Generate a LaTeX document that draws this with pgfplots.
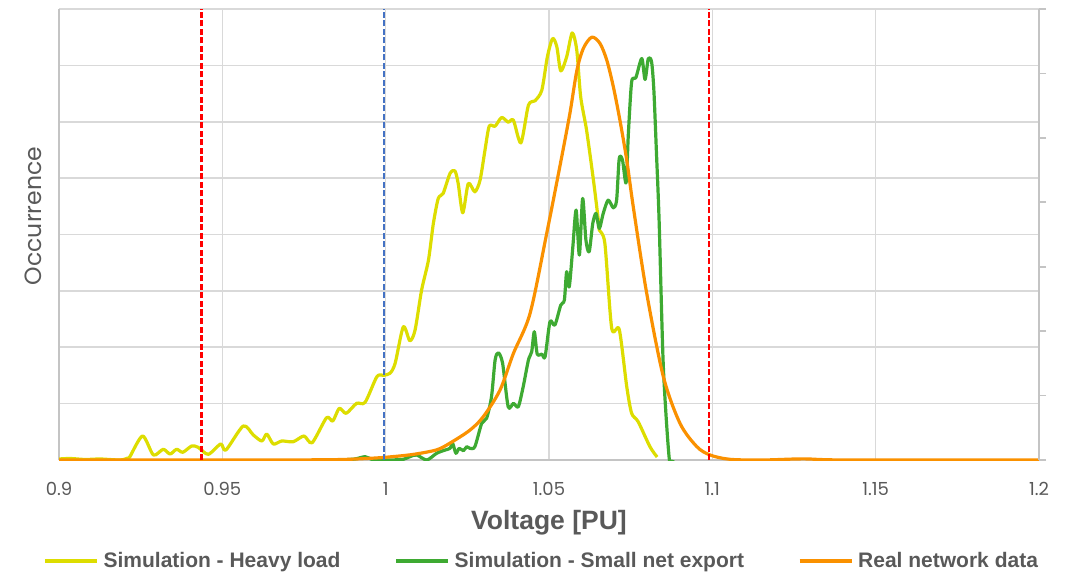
\documentclass[border=0pt]{standalone}
\usepackage{pgfplots}
\pgfplotsset{compat=1.18}
\usepackage{fontspec}
\setmainfont{Liberation Sans}
\newfontfamily\pop{Poppins}
\definecolor{cyel}{RGB}{221,221,0}
\definecolor{cgrn}{RGB}{62,170,50}
\definecolor{corg}{RGB}{250,145,0}
\definecolor{cred}{RGB}{255,0,0}
\definecolor{cblu}{RGB}{68,114,196}
\definecolor{gridgray}{RGB}{217,217,217}
\definecolor{axgray}{RGB}{196,196,196}
\definecolor{txtgray}{RGB}{89,89,89}
\begin{document}
\begin{tikzpicture}
\path (-59pt,-113pt) rectangle (1015pt,460pt);
\begin{axis}[
  scale only axis, width=980pt, height=451pt,
  xmin=0.9, xmax=1.2, ymin=0, ymax=8,
  xtick={0.9,0.95,1,1.05,1.1,1.15,1.2},
  xticklabels={0.9,0.95,1,1.05,1.1,1.15,1.2},
  ytick={0,1,2,3,4,5,6,7,8}, yticklabels={},
  grid=major, grid style={draw=gridgray, line width=1.6pt},
  axis x line*=bottom, axis y line*=left,
  axis line style={draw=axgray, line width=1.8pt, -},
  major tick length=0pt,
  /pgf/number format/assume math mode=true,
  xticklabel style={font=\pop\fontsize{18}{20}\selectfont, text=txtgray, anchor=center, yshift=-29pt},
  xlabel={Voltage [PU]},
  xlabel style={font=\bfseries\fontsize{26.5}{28}\selectfont, text=txtgray, at={(axis description cs:0.5,-0.1397)}, anchor=center},
  ylabel={Occurrence},
  ylabel style={font=\pop\fontsize{23.5}{25}\selectfont, text=txtgray, at={(axis description cs:-0.0265,0.541)}, anchor=center},
  legend columns=3,
  legend style={at={(axis description cs:0.492,-0.224)}, anchor=center, draw=none, fill=none,
     font=\bfseries\fontsize{21}{23}\selectfont, text=txtgray,
     nodes={inner sep=1pt},
     /tikz/every even column/.append style={column sep=53pt},
     /tikz/every odd column/.append style={column sep=4pt}},
  legend image code/.code={\draw[#1, line width=3.2pt] (0pt,0pt) -- (52pt,0pt);},
  legend cell align=left,
]
% Heavy load
\addplot[cyel, line width=3.2pt, smooth, tension=0.45, line join=round] coordinates {
(0.9000,0.018) (0.9034,0.027) (0.9080,0.009) (0.9126,0.018) (0.9187,0.000) (0.9211,0.035)
(0.9217,0.059) (0.9256,0.426) (0.9289,0.089) (0.9319,0.190) (0.9340,0.106) (0.9360,0.190)
(0.9379,0.137) (0.9406,0.248) (0.9426,0.225) (0.9457,0.101) (0.9495,0.284) (0.9511,0.177)
(0.9564,0.603) (0.9595,0.443) (0.9621,0.337) (0.9636,0.461) (0.9656,0.284) (0.9682,0.337)
(0.9717,0.324) (0.9750,0.426) (0.9775,0.307) (0.9819,0.750) (0.9838,0.691) (0.9858,0.917)
(0.9879,0.828) (0.9911,1.005) (0.9937,1.023) (0.9973,1.477) (0.9993,1.502) (1.0013,1.537)
(1.0029,1.715) (1.0054,2.363) (1.0074,2.115) (1.0090,2.305) (1.0110,3.014) (1.0131,3.546)
(1.0146,4.197) (1.0161,4.640) (1.0176,4.729) (1.0197,5.083) (1.0212,5.129) (1.0222,4.906)
(1.0236,4.385) (1.0253,4.906) (1.0273,4.757) (1.0289,4.965) (1.0304,5.496) (1.0317,5.922)
(1.0335,5.922) (1.0355,6.076) (1.0375,5.993) (1.0391,6.028) (1.0414,5.626) (1.0437,6.294)
(1.0457,6.371) (1.0478,6.560) (1.0495,7.151) (1.0511,7.477) (1.0524,7.328) (1.0536,6.902)
(1.0554,7.151) (1.0571,7.576) (1.0585,7.270) (1.0597,6.441) (1.0615,5.851) (1.0636,4.965)
(1.0651,4.255) (1.0654,4.078) (1.0671,3.842) (1.0692,2.335) (1.0715,2.317) (1.0738,1.300)
(1.0753,0.828) (1.0773,0.679) (1.0809,0.236) (1.0831,0.053)
};
\addlegendentry{Simulation - Heavy load}
% Small net export
\addplot[cgrn, line width=3.2pt, smooth, tension=0.45, line join=round] coordinates {
(0.9860,0.000) (0.9906,0.018) (0.9937,0.059) (0.9958,0.009) (0.9983,0.000) (1.0013,0.000)
(1.0054,0.012) (1.0074,0.059) (1.0095,0.089) (1.0126,0.000) (1.0156,0.119) (1.0182,0.177)
(1.0197,0.207) (1.0205,0.296) (1.0215,0.119) (1.0225,0.207) (1.0238,0.165) (1.0248,0.236)
(1.0258,0.207) (1.0273,0.236) (1.0294,0.651) (1.0309,0.739) (1.0324,1.122) (1.0335,1.773)
(1.0345,1.902) (1.0358,1.715) (1.0375,0.945) (1.0391,1.005) (1.0406,0.945) (1.0421,1.300)
(1.0437,1.773) (1.0447,1.920) (1.0455,2.275) (1.0464,1.879) (1.0478,1.879) (1.0488,1.832)
(1.0503,2.452) (1.0518,2.394) (1.0536,2.748) (1.0547,2.837) (1.0554,3.339) (1.0562,3.073)
(1.0573,3.782) (1.0583,4.433) (1.0593,3.635) (1.0603,4.640) (1.0613,3.901) (1.0623,3.693)
(1.0634,4.197) (1.0644,4.374) (1.0654,4.108) (1.0666,4.374) (1.0681,4.610) (1.0697,4.473)
(1.0707,4.610) (1.0715,5.349) (1.0725,5.319) (1.0736,4.917) (1.0743,5.793) (1.0753,6.707)
(1.0766,6.785) (1.0784,7.122) (1.0794,6.750) (1.0804,7.122) (1.0814,7.062) (1.0821,6.560)
(1.0829,5.440) (1.0837,4.260) (1.0850,1.654) (1.0868,0.030) (1.0880,0.000)
};
\addlegendentry{Simulation - Small net export}
% Real network data
\addplot[corg, line width=3.2pt, smooth, tension=0.5, line join=round] coordinates {
(0.9000,0.000) (0.9500,0.000) (0.9830,0.005) (0.9952,0.030) (1.0013,0.055) (1.0085,0.100)
(1.0156,0.180) (1.0197,0.300) (1.0258,0.530) (1.0299,0.770) (1.0350,1.240) (1.0391,1.890)
(1.0442,2.600) (1.0493,4.020) (1.0534,5.230) (1.0564,6.150) (1.0585,6.900) (1.0605,7.300)
(1.0631,7.500) (1.0656,7.390) (1.0677,7.090) (1.0697,6.620) (1.0717,6.030) (1.0738,5.320)
(1.0758,4.490) (1.0799,2.960) (1.0850,1.480) (1.0901,0.650) (1.0952,0.240) (1.0993,0.089)
(1.1054,0.012) (1.1155,0.000) (1.1278,0.020) (1.1411,0.000) (1.2000,0.000)
};
\addlegendentry{Real network data}
% limits
\addplot[cred, line width=2.8pt, dash pattern=on 6pt off 2.5pt, forget plot] coordinates {(0.9435,0) (0.9435,8)};
\addplot[cred, line width=2.8pt, dash pattern=on 6pt off 2.5pt, forget plot] coordinates {(1.0990,0) (1.0990,8)};
\addplot[cblu, line width=2.8pt, dash pattern=on 6pt off 2.5pt, forget plot] coordinates {(0.9995,0) (0.9995,8)};
\end{axis}
\begin{axis}[
  scale only axis, width=980pt, height=451pt,
  xmin=0.9, xmax=1.2, ymin=0, ymax=7,
  axis x line=none, axis y line*=right,
  axis line style={draw=axgray, line width=1.8pt, -},
  ytick={0,1,2,3,4,5,6,7}, yticklabels={},
  tick align=outside, major tick length=7pt,
  every tick/.style={draw=axgray, line width=1.8pt},
]
\end{axis}
\end{tikzpicture}
\end{document}
